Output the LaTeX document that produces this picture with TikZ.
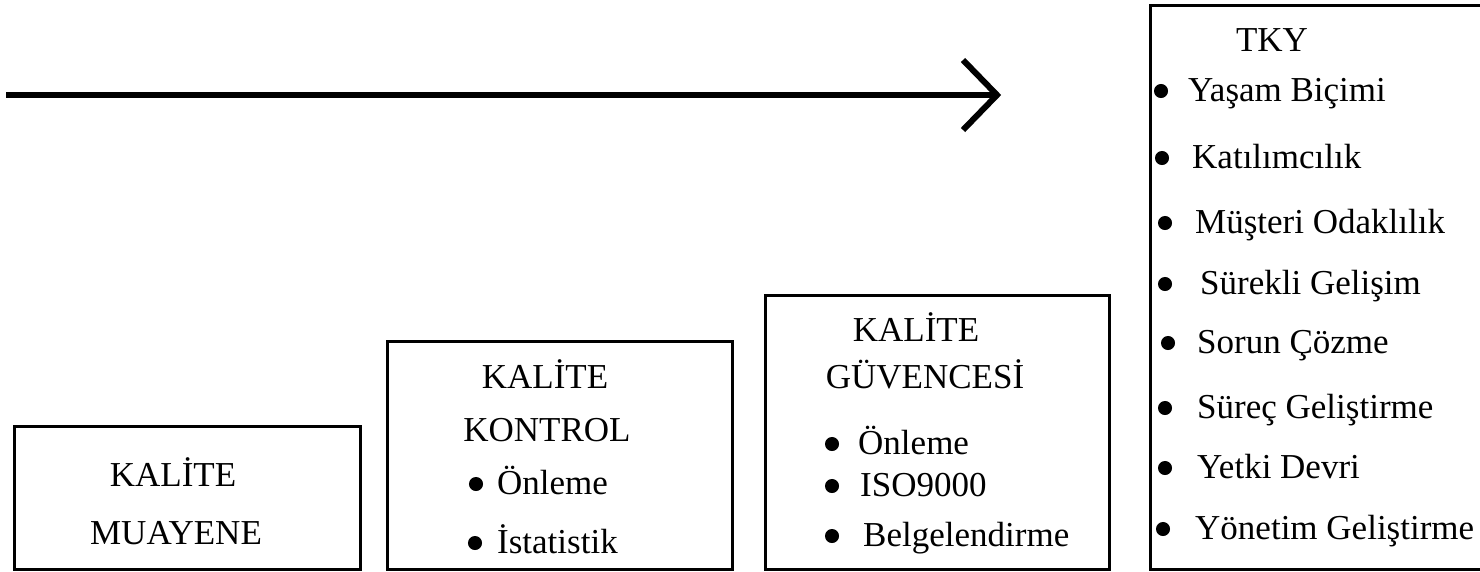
\documentclass[tikz,border=0pt]{standalone}
\usepackage{fontspec}
\setmainfont{Liberation Serif}
\usetikzlibrary{calc}
\begin{document}
\begin{tikzpicture}[x=1pt,y=-1pt,
  stage/.style={draw=black,line width=3pt},
  label/.style={inner sep=0pt,font=\fontsize{35}{42}\selectfont},
  title/.style={label,anchor=base},
  item/.style={label,anchor=base west},
  dot/.style={circle,fill=black,draw=black,line width=1pt,inner sep=0pt,minimum size=13pt}]
\useasboundingbox (0,0) rectangle (1480,571);
\clip (0,0) rectangle (1480,571);
\fill[white] (0,0) rectangle (1480,571);

% time arrow with an open chevron head
\coordinate (tail) at (6,95);
\coordinate (tip) at (997,95);
\draw[line width=6pt] (tail) -- (tip);
\draw[line width=6pt,miter limit=10] ($(tip)+(-34,-35)$) -- (tip) -- ($(tip)+(-34,35)$);

% stage 1
\draw[stage] (14,426) rectangle (360,569);
\node[title] (muaA) at (173,486) {KAL\.ITE};
\node[title] (muaB) at (176,544) {MUAYENE};

% stage 2
\draw[stage] (387,341) rectangle (732,569);
\node[title] (konA) at (545,388) {KAL\.ITE};
\node[title] (konB) at (547,441) {KONTROL};
\node[dot] (konD1) at (476,484) {};
\node[item] (konI1) at (497,494) {Önleme};
\node[dot] (konD2) at (475,543) {};
\node[item] (konI2) at (497,553) {\.Istatistik};

% stage 3
\draw[stage] (765,295) rectangle (1109,569);
\node[title] (guvA) at (916,341) {KAL\.ITE};
\node[title] (guvB) at (925,388) {GÜVENCES\.I};
\node[dot] (guvD1) at (832,444) {};
\node[item] (guvI1) at (858,454) {Önleme};
\node[dot] (guvD2) at (832,486) {};
\node[item] (guvI2) at (860,496) {ISO9000};
\node[dot] (guvD3) at (832,536) {};
\node[item] (guvI3) at (863,546) {Belgelendirme};

% stage 4
\draw[stage] (1150,5) rectangle (1500,569);
\node[title] (tky) at (1272,51) {TKY};
\node[dot] (tkyD1) at (1161,91) {};
\node[item] (tkyI1) at (1188,101) {Yaşam Biçimi};
\node[dot] (tkyD2) at (1162,158) {};
\node[item] (tkyI2) at (1192,168) {Katılımcılık};
\node[dot] (tkyD3) at (1165,223) {};
\node[item] (tkyI3) at (1195,233) {Müşteri Odaklılık};
\node[dot] (tkyD4) at (1165,284) {};
\node[item] (tkyI4) at (1200,294) {Sürekli Gelişim};
\node[dot] (tkyD5) at (1168,343) {};
\node[item] (tkyI5) at (1197,353) {Sorun Çözme};
\node[dot] (tkyD6) at (1165,408) {};
\node[item] (tkyI6) at (1197,418) {Süreç Geliştirme};
\node[dot] (tkyD7) at (1165,468) {};
\node[item] (tkyI7) at (1197,478) {Yetki Devri};
\node[dot] (tkyD8) at (1163,529) {};
\node[item] (tkyI8) at (1195,539) {Yönetim Geliştirme};
\end{tikzpicture}
\end{document}
